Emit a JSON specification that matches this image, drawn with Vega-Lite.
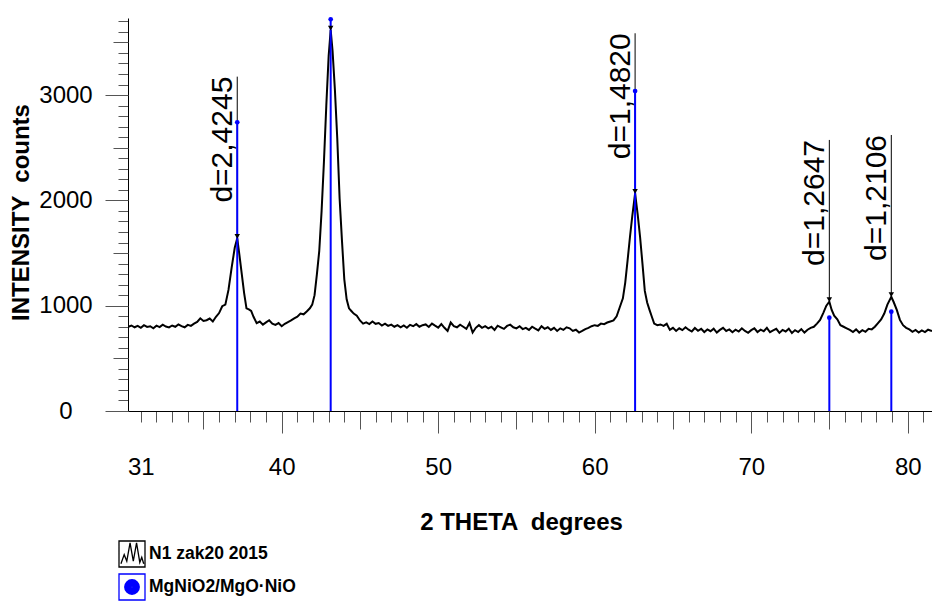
{
 "$schema": "https://vega.github.io/schema/vega-lite/v6.json",
 "width": 804,
 "height": 393,
 "autosize": "none",
 "padding": {"left": 128, "top": 18, "right": 0, "bottom": 194},
 "config": {
  "font": "Liberation Sans",
  "view": {"stroke": null},
  "axis": {"grid": false, "domainColor": "black", "tickColor": "#555555", "labelColor": "black", "titleColor": "black", "labelFontSize": 24, "labelFont": "Liberation Sans", "titleFont": "Liberation Sans"}
 },
 "datasets": {
  "pattern": [
   {"t":30.2,"i":800},{"t":30.4,"i":812},{"t":30.6,"i":795},{"t":30.8,"i":808},{"t":31.0,"i":790},{"t":31.2,"i":815},{"t":31.4,"i":798},{"t":31.6,"i":805},{"t":31.8,"i":786},{"t":32.0,"i":810},
   {"t":32.2,"i":797},{"t":32.4,"i":820},{"t":32.6,"i":802},{"t":32.8,"i":794},{"t":33.0,"i":812},{"t":33.2,"i":800},{"t":33.4,"i":822},{"t":33.6,"i":806},{"t":33.8,"i":795},{"t":34.0,"i":818},
   {"t":34.2,"i":808},{"t":34.4,"i":830},{"t":34.6,"i":845},{"t":34.8,"i":880},{"t":35.0,"i":855},{"t":35.2,"i":862},{"t":35.4,"i":878},{"t":35.6,"i":850},{"t":35.8,"i":895},{"t":36.0,"i":930},
   {"t":36.2,"i":995},{"t":36.4,"i":1010},{"t":36.6,"i":1150},{"t":36.8,"i":1360},{"t":37.0,"i":1550},{"t":37.16,"i":1640},{"t":37.3,"i":1480},{"t":37.45,"i":1300},{"t":37.6,"i":1120},{"t":37.75,"i":975},
   {"t":37.9,"i":965},{"t":38.05,"i":950},{"t":38.2,"i":895},{"t":38.4,"i":835},{"t":38.6,"i":850},{"t":38.8,"i":820},{"t":39.0,"i":842},{"t":39.2,"i":862},{"t":39.4,"i":830},{"t":39.6,"i":818},
   {"t":39.8,"i":835},{"t":40.0,"i":805},{"t":40.2,"i":828},{"t":40.4,"i":845},{"t":40.6,"i":860},{"t":40.8,"i":880},{"t":41.0,"i":895},{"t":41.2,"i":925},{"t":41.4,"i":918},{"t":41.6,"i":945},
   {"t":41.8,"i":975},{"t":41.95,"i":1010},{"t":42.1,"i":1100},{"t":42.25,"i":1300},{"t":42.4,"i":1520},{"t":42.55,"i":1900},{"t":42.7,"i":2370},{"t":42.85,"i":2900},{"t":43.0,"i":3370},{"t":43.13,"i":3618},
   {"t":43.25,"i":3420},{"t":43.4,"i":3050},{"t":43.55,"i":2590},{"t":43.7,"i":2020},{"t":43.85,"i":1620},{"t":44.0,"i":1250},{"t":44.15,"i":1060},{"t":44.3,"i":975},{"t":44.45,"i":950},{"t":44.6,"i":925},
   {"t":44.8,"i":905},{"t":45.0,"i":860},{"t":45.2,"i":830},{"t":45.4,"i":842},{"t":45.6,"i":825},{"t":45.8,"i":850},{"t":46.0,"i":828},{"t":46.2,"i":835},{"t":46.4,"i":812},{"t":46.6,"i":830},
   {"t":46.8,"i":808},{"t":47.0,"i":820},{"t":47.2,"i":800},{"t":47.4,"i":815},{"t":47.6,"i":795},{"t":47.8,"i":812},{"t":48.0,"i":790},{"t":48.2,"i":818},{"t":48.4,"i":805},{"t":48.6,"i":825},
   {"t":48.8,"i":800},{"t":49.0,"i":815},{"t":49.2,"i":822},{"t":49.4,"i":798},{"t":49.6,"i":830},{"t":49.8,"i":810},{"t":50.0,"i":792},{"t":50.2,"i":825},{"t":50.4,"i":790},{"t":50.6,"i":760},
   {"t":50.8,"i":840},{"t":51.0,"i":805},{"t":51.2,"i":795},{"t":51.4,"i":820},{"t":51.6,"i":800},{"t":51.8,"i":780},{"t":52.0,"i":835},{"t":52.2,"i":745},{"t":52.4,"i":790},{"t":52.6,"i":815},
   {"t":52.8,"i":790},{"t":53.0,"i":805},{"t":53.2,"i":785},{"t":53.4,"i":800},{"t":53.6,"i":770},{"t":53.8,"i":810},{"t":54.0,"i":795},{"t":54.2,"i":780},{"t":54.4,"i":808},{"t":54.6,"i":820},
   {"t":54.8,"i":795},{"t":55.0,"i":785},{"t":55.2,"i":805},{"t":55.4,"i":778},{"t":55.6,"i":790},{"t":55.8,"i":770},{"t":56.0,"i":800},{"t":56.2,"i":782},{"t":56.4,"i":765},{"t":56.6,"i":805},
   {"t":56.8,"i":780},{"t":57.0,"i":795},{"t":57.2,"i":770},{"t":57.4,"i":790},{"t":57.6,"i":760},{"t":57.8,"i":785},{"t":58.0,"i":770},{"t":58.2,"i":795},{"t":58.4,"i":785},{"t":58.6,"i":760},
   {"t":58.8,"i":772},{"t":59.0,"i":745},{"t":59.2,"i":760},{"t":59.4,"i":778},{"t":59.6,"i":790},{"t":59.8,"i":805},{"t":60.0,"i":815},{"t":60.2,"i":808},{"t":60.4,"i":830},{"t":60.6,"i":825},
   {"t":60.8,"i":840},{"t":61.0,"i":850},{"t":61.2,"i":860},{"t":61.4,"i":900},{"t":61.6,"i":985},{"t":61.8,"i":1070},{"t":61.95,"i":1220},{"t":62.1,"i":1430},{"t":62.25,"i":1650},{"t":62.4,"i":1850},
   {"t":62.58,"i":2067},{"t":62.75,"i":1860},{"t":62.9,"i":1650},{"t":63.05,"i":1400},{"t":63.2,"i":1140},{"t":63.35,"i":1030},{"t":63.5,"i":960},{"t":63.65,"i":895},{"t":63.8,"i":830},{"t":64.0,"i":815},
   {"t":64.2,"i":822},{"t":64.4,"i":808},{"t":64.6,"i":828},{"t":64.8,"i":770},{"t":65.0,"i":790},{"t":65.2,"i":760},{"t":65.4,"i":785},{"t":65.6,"i":768},{"t":65.8,"i":795},{"t":66.0,"i":772},
   {"t":66.2,"i":755},{"t":66.4,"i":788},{"t":66.6,"i":762},{"t":66.8,"i":780},{"t":67.0,"i":750},{"t":67.2,"i":775},{"t":67.4,"i":758},{"t":67.6,"i":782},{"t":67.8,"i":745},{"t":68.0,"i":770},
   {"t":68.2,"i":790},{"t":68.4,"i":760},{"t":68.6,"i":775},{"t":68.8,"i":748},{"t":69.0,"i":772},{"t":69.2,"i":755},{"t":69.4,"i":785},{"t":69.6,"i":760},{"t":69.8,"i":742},{"t":70.0,"i":768},
   {"t":70.2,"i":785},{"t":70.4,"i":750},{"t":70.6,"i":772},{"t":70.8,"i":758},{"t":71.0,"i":790},{"t":71.2,"i":748},{"t":71.4,"i":765},{"t":71.6,"i":780},{"t":71.8,"i":742},{"t":72.0,"i":770},
   {"t":72.2,"i":755},{"t":72.4,"i":782},{"t":72.6,"i":740},{"t":72.8,"i":768},{"t":73.0,"i":750},{"t":73.2,"i":778},{"t":73.4,"i":745},{"t":73.6,"i":772},{"t":73.8,"i":790},{"t":74.0,"i":800},
   {"t":74.2,"i":830},{"t":74.4,"i":865},{"t":74.6,"i":930},{"t":74.8,"i":1000},{"t":74.99,"i":1038},{"t":75.14,"i":960},{"t":75.3,"i":905},{"t":75.5,"i":870},{"t":75.7,"i":815},{"t":75.9,"i":800},
   {"t":76.1,"i":785},{"t":76.3,"i":770},{"t":76.5,"i":750},{"t":76.7,"i":775},{"t":76.9,"i":745},{"t":77.1,"i":768},{"t":77.3,"i":752},{"t":77.5,"i":780},{"t":77.7,"i":775},{"t":77.9,"i":800},
   {"t":78.1,"i":835},{"t":78.3,"i":870},{"t":78.5,"i":925},{"t":78.7,"i":1010},{"t":78.95,"i":1085},{"t":79.1,"i":1035},{"t":79.3,"i":960},{"t":79.5,"i":865},{"t":79.7,"i":815},{"t":79.9,"i":790},
   {"t":80.1,"i":775},{"t":80.3,"i":752},{"t":80.5,"i":770},{"t":80.7,"i":745},{"t":80.9,"i":765},{"t":81.1,"i":750},{"t":81.3,"i":772},{"t":81.55,"i":760}
  ],
  "sticks": [{"t":37.16,"i":2742},{"t":43.13,"i":3720},{"t":62.58,"i":3039},{"t":74.99,"i":886},{"t":78.95,"i":943}],
  "markers": [{"t":37.16,"i":1640},{"t":43.13,"i":3618},{"t":62.58,"i":2067},{"t":74.99,"i":1038},{"t":78.95,"i":1085}],
  "labels": [
   {"t":37.16,"i":1640,"top":3175,"d":"d=2,4245"},
   {"t":62.58,"i":2067,"top":3587,"d":"d=1,4820"},
   {"t":74.99,"i":1038,"top":2574,"d":"d=1,2647"},
   {"t":78.95,"i":1085,"top":2621,"d":"d=1,2106"}
  ],
  "legend": [{"s":"N1 zak20 2015"},{"s":"MgNiO2/MgO·NiO"}]
 },
 "layer": [
  {
   "data": {"name": "pattern"},
   "mark": {"type": "line", "color": "black", "strokeWidth": 2, "clip": true},
   "encoding": {
    "x": {"field": "t", "type": "quantitative", "scale": {"domain": [30.18, 81.55], "nice": false, "zero": false},
     "axis": {"orient": "bottom", "values": [31,32,33,34,35,36,37,38,39,40,41,42,43,44,45,46,47,48,49,50,51,52,53,54,55,56,57,58,59,60,61,62,63,64,65,66,67,68,69,70,71,72,73,74,75,76,77,78,79,80,81], "tickSize": 11, "labels": false, "title": null, "domain": true}},
    "y": {"field": "i", "type": "quantitative", "scale": {"domain": [0, 3732], "nice": false},
     "axis": {"orient": "left", "values": [0,100,200,300,400,500,600,700,800,900,1000,1100,1200,1300,1400,1500,1600,1700,1800,1900,2000,2100,2200,2300,2400,2500,2600,2700,2800,2900,3000,3100,3200,3300,3400,3500,3600,3700], "tickSize": 10, "labels": false, "title": null, "domain": true}}
   }
  },
  {
   "data": {"name": "labels"},
   "mark": {"type": "rule", "color": "black", "strokeWidth": 1},
   "encoding": {
    "x": {"field": "t", "type": "quantitative", "scale": {"domain": [30.18, 81.55], "nice": false, "zero": false},
     "axis": {"orient": "bottom", "values": [31,40,50,60,70,80], "ticks": false, "tickSize": 0, "domain": false, "labelPadding": 44, "labelFontSize": 24,
      "title": "2 THETA \u00a0degrees", "titleFontSize": 24, "titleFontWeight": "bold", "titleX": 393, "titleY": 118, "titleBaseline": "alphabetic", "titleAlign": "center"}},
    "y": {"field": "i", "type": "quantitative", "scale": {"domain": [0, 3732], "nice": false}, "axis": null},
    "y2": {"field": "top"}
   }
  },
  {
   "data": {"name": "sticks"},
   "mark": {"type": "rule", "color": "#0000ff", "strokeWidth": 2},
   "encoding": {
    "x": {"field": "t", "type": "quantitative", "scale": {"domain": [30.18, 81.55], "nice": false, "zero": false},
     "axis": {"orient": "bottom", "values": [35,45,55,65,75], "tickSize": 18, "labels": false, "title": null, "domain": false}},
    "y": {"field": "i", "type": "quantitative", "scale": {"domain": [0, 3732], "nice": false},
     "axis": {"orient": "left", "values": [500,1500,2500,3500], "tickSize": 15, "labels": false, "title": null, "domain": false}},
    "y2": {"datum": 0}
   }
  },
  {
   "data": {"name": "sticks"},
   "mark": {"type": "point", "filled": true, "color": "#0000ff", "size": 22, "opacity": 1},
   "encoding": {
    "x": {"field": "t", "type": "quantitative", "scale": {"domain": [30.18, 81.55], "nice": false, "zero": false},
     "axis": {"orient": "bottom", "values": [40,50,60,70,80], "tickSize": 22, "labels": false, "title": null, "domain": false}},
    "y": {"field": "i", "type": "quantitative", "scale": {"domain": [0, 3732], "nice": false},
     "axis": {"orient": "left", "values": [0,1000,2000,3000], "format": "d", "tickSize": 23, "labels": true, "labelAlign": "center", "labelPadding": 39.5, "labelFontSize": 24, "domain": false,
      "title": "INTENSITY \u00a0counts", "titleFontSize": 24, "titleFontWeight": "bold", "titleX": -99.5, "titleY": 194, "titleAngle": 270, "titleBaseline": "alphabetic", "titleAlign": "center"}}
   }
  },
  {
   "data": {"name": "markers"},
   "mark": {"type": "point", "shape": "triangle-down", "filled": true, "color": "black", "size": 30, "opacity": 1, "yOffset": -2},
   "encoding": {
    "x": {"field": "t", "type": "quantitative", "scale": {"domain": [30.18, 81.55], "nice": false, "zero": false}, "axis": null},
    "y": {"field": "i", "type": "quantitative", "scale": {"domain": [0, 3732], "nice": false}, "axis": null}
   }
  },
  {
   "data": {"name": "labels"},
   "mark": {"type": "text", "angle": 270, "align": "right", "baseline": "alphabetic", "dy": -5, "fontSize": 30, "color": "black", "font": "Liberation Sans"},
   "encoding": {
    "x": {"field": "t", "type": "quantitative", "scale": {"domain": [30.18, 81.55], "nice": false, "zero": false}, "axis": null},
    "y": {"field": "top", "type": "quantitative", "scale": {"domain": [0, 3732], "nice": false}, "axis": null},
    "text": {"field": "d"}
   }
  },
  {
   "data": {"name": "legend"},
   "mark": {"type": "point", "opacity": 0, "filled": false},
   "encoding": {
    "color": {"field": "s", "type": "nominal", "scale": {"domain": ["N1 zak20 2015", "MgNiO2/MgO·NiO"], "range": ["black", "#0000ff"]},
     "legend": {"orient": "none", "legendX": -10, "legendY": 522, "title": null, "symbolSize": 676, "labelFontSize": 17.5, "labelFontWeight": "bold", "labelColor": "black", "labelFont": "Liberation Sans", "labelOffset": 3, "rowPadding": 1, "padding": 0, "symbolStrokeWidth": 1.3, "symbolOpacity": 1,
      "encode": {"symbols": {"update": {"strokeWidth": {"value": 1.3}, "opacity": {"value": 1}, "strokeOpacity": {"value": 1}}}}}},
    "shape": {"field": "s", "type": "nominal", "scale": {"domain": ["N1 zak20 2015", "MgNiO2/MgO·NiO"], "range": [
      "M-1,-1H1V1H-1Z M-0.85,0.75L-0.6,0.05L-0.4,0.55L-0.15,-0.85L0.1,0.55L0.35,-0.85L0.6,0.65L0.75,0.25L0.9,0.75",
      "M-1,-1H1V1H-1Z M-0.56,0A0.56,0.56 0 1 0 0.56,0A0.56,0.56 0 1 0 -0.56,0Z M-0.49,0A0.49,0.49 0 1 0 0.49,0A0.49,0.49 0 1 0 -0.49,0Z M-0.42,0A0.42,0.42 0 1 0 0.42,0A0.42,0.42 0 1 0 -0.42,0Z M-0.35,0A0.35,0.35 0 1 0 0.35,0A0.35,0.35 0 1 0 -0.35,0Z M-0.28,0A0.28,0.28 0 1 0 0.28,0A0.28,0.28 0 1 0 -0.28,0Z M-0.21,0A0.21,0.21 0 1 0 0.21,0A0.21,0.21 0 1 0 -0.21,0Z M-0.14,0A0.14,0.14 0 1 0 0.14,0A0.14,0.14 0 1 0 -0.14,0Z M-0.07,0A0.07,0.07 0 1 0 0.07,0A0.07,0.07 0 1 0 -0.07,0Z"]},
     "legend": {"orient": "none", "legendX": -10, "legendY": 522, "title": null, "symbolSize": 676, "labelFontSize": 17.5, "labelFontWeight": "bold", "labelColor": "black", "labelFont": "Liberation Sans", "labelOffset": 3, "rowPadding": 1, "padding": 0, "symbolStrokeWidth": 1.3, "symbolOpacity": 1,
      "encode": {"symbols": {"update": {"strokeWidth": {"value": 1.3}, "opacity": {"value": 1}, "strokeOpacity": {"value": 1}}}}}}
   }
  }
 ],
 "resolve": {"axis": {"x": "independent", "y": "independent"}}
}
